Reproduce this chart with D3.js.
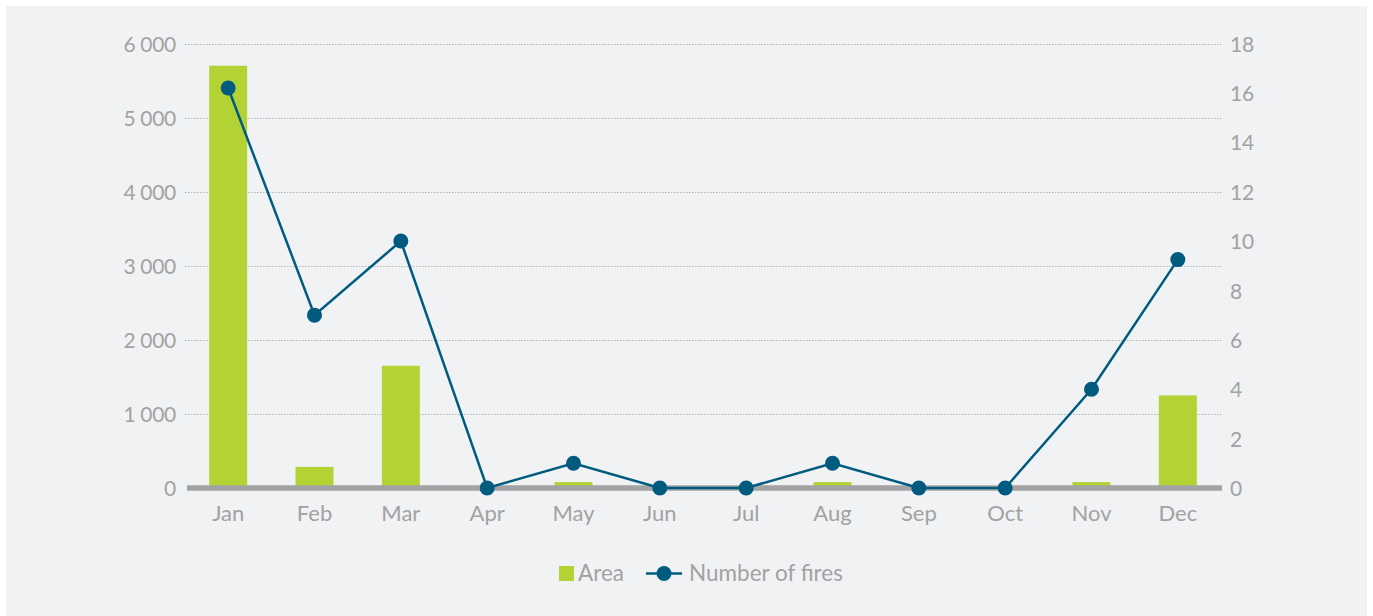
<!DOCTYPE html>
<html><head><meta charset="utf-8">
<script src="https://cdn.jsdelivr.net/npm/d3@7/dist/d3.min.js"></script>
<style>
html,body{margin:0;padding:0;background:#fff;}
svg{display:block;}
text{font-family:"Lato","Open Sans",sans-serif;fill:#a2a2a2;}
</style></head>
<body>
<script>
const months = ["Jan","Feb","Mar","Apr","May","Jun","Jul","Aug","Sep","Oct","Nov","Dec"];
const area = [5700, 285, 1650, 0, 80, 0, 0, 80, 0, 0, 80, 1250];
const fires = [16.2, 7, 10, 0, 1, 0, 0, 1, 0, 0, 4, 9.25];
const leftTicks = [0,1000,2000,3000,4000,5000,6000];
const rightTicks = [0,2,4,6,8,10,12,14,16,18];
const seriesNames = ["Area","Number of fires"];

const W=1373,H=616;
const svg=d3.select("body").append("svg").attr("width",W).attr("height",H);
svg.append("rect").attr("x",6).attr("y",6).attr("width",1361).attr("height",H-6).attr("fill","#f1f2f4");

const x=d3.scaleBand().domain(months).range([185,1221]).paddingInner(0.56).paddingOuter(0.28);
const yL=d3.scaleLinear().domain([0,6000]).range([488,43.5]);
const yR=d3.scaleLinear().domain([0,18]).range([488,43.5]);
const fmt=d=>d3.format(",")(d).replace(/,/g," ");

// gridlines
svg.append("g").selectAll("line").data(leftTicks.filter(d=>d>0)).join("line")
  .attr("x1",185).attr("x2",1222).attr("y1",d=>Math.round(yL(d))+0.5).attr("y2",d=>Math.round(yL(d))+0.5)
  .attr("stroke","#b4b4b4").attr("stroke-width",1).attr("stroke-dasharray","1.5,1.5");

// left axis
const gl=svg.append("g").attr("transform","translate(176,0)")
  .call(d3.axisLeft(yL).tickValues(leftTicks).tickFormat(fmt).tickSize(0).tickPadding(0));
gl.select(".domain").remove();
gl.selectAll("text").attr("font-size",21).attr("fill","#a2a2a2").attr("dy","0.36em").attr("letter-spacing","-0.3");

// right axis
const gr=svg.append("g").attr("transform","translate(1230,0)")
  .call(d3.axisRight(yR).tickValues(rightTicks).tickSize(0).tickPadding(0));
gr.select(".domain").remove();
gr.selectAll("text").attr("font-size",21).attr("fill","#a2a2a2").attr("dy","0.36em").attr("letter-spacing","-0.3");

// bars
svg.append("g").selectAll("rect").data(area).join("rect")
  .attr("x",(d,i)=>x(months[i])).attr("width",x.bandwidth())
  .attr("y",d=>yL(d)).attr("height",d=>yL(0)-yL(d))
  .attr("fill","#b3d334");

// zero line
svg.append("line").attr("x1",187).attr("x2",1222).attr("y1",yL(0)).attr("y2",yL(0))
  .attr("stroke","#a3a3a5").attr("stroke-width",5.5);

// bottom axis
const gb=svg.append("g").attr("transform","translate(0,521)")
  .call(d3.axisBottom(x).tickSize(0).tickPadding(0));
gb.select(".domain").remove();
gb.selectAll("text").attr("font-size",22).attr("fill","#a2a2a2").attr("y",0).attr("dy","0");

// line
const cx=(i)=>x(months[i])+x.bandwidth()/2;
const line=d3.line().x((d,i)=>cx(i)).y(d=>yR(d));
svg.append("path").datum(fires).attr("d",line).attr("fill","none")
  .attr("stroke","#005b7f").attr("stroke-width",2.5);
svg.append("g").selectAll("circle").data(fires).join("circle")
  .attr("cx",(d,i)=>cx(i)).attr("cy",d=>yR(d)).attr("r",7.5).attr("fill","#005b7f");

// legend
const lg=svg.append("g");
lg.append("rect").attr("x",559).attr("y",566).attr("width",15).attr("height",15).attr("fill","#b3d334");
lg.append("text").attr("x",578).attr("y",581).attr("font-size",22.5).text(seriesNames[0]);
lg.append("line").attr("x1",646).attr("x2",682).attr("y1",573.5).attr("y2",573.5).attr("stroke","#005b7f").attr("stroke-width",2.5);
lg.append("circle").attr("cx",664).attr("cy",573.5).attr("r",7.5).attr("fill","#005b7f");
lg.append("text").attr("x",689).attr("y",581).attr("font-size",22.5).text(seriesNames[1]);
</script>
</body></html>
